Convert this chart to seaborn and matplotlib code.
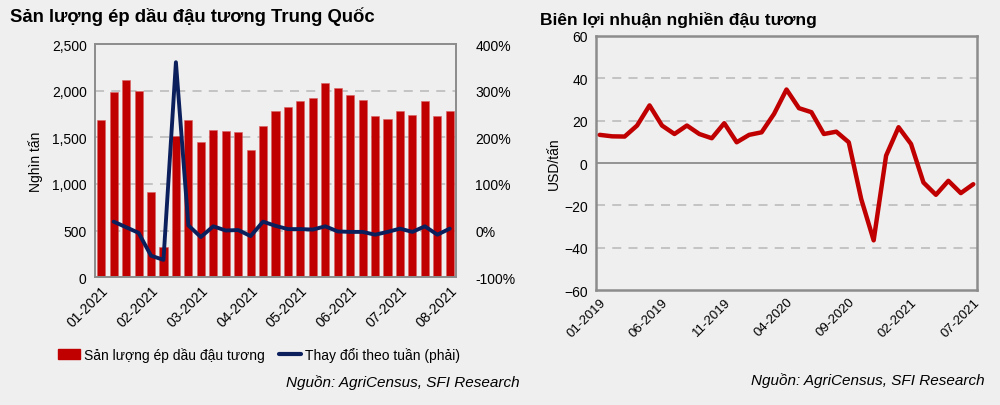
import numpy as np
import pandas as pd
import matplotlib
matplotlib.use("Agg")
import matplotlib.pyplot as plt
import matplotlib.ticker as mticker
from matplotlib.patches import Patch
from matplotlib.lines import Line2D
import seaborn as sns

# ---------------- data ----------------
crush_volume = [1686, 1989, 2114, 1996, 911, 325, 1511, 1686, 1454, 1575,
                1564, 1554, 1361, 1621, 1782, 1825, 1886, 1921, 2079, 2025,
                1957, 1904, 1725, 1696, 1786, 1736, 1886, 1725, 1786]
weekly_change = [np.nan, 19, 7, -5, -54, -63, 361, 11, -14, 9,
                 0, 1, -12, 19, 10, 3, 3, 2, 9, -2,
                 -3, -3, -9, -3, 4, -3, 9, -9, 4]
left_tick_labels = ["01-2021", "02-2021", "03-2021", "04-2021",
                    "05-2021", "06-2021", "07-2021", "08-2021"]

margin_months = ["01-2019", "02-2019", "03-2019", "04-2019", "05-2019", "06-2019",
                 "07-2019", "08-2019", "09-2019", "10-2019", "11-2019", "12-2019",
                 "01-2020", "02-2020", "03-2020", "04-2020", "05-2020", "06-2020",
                 "07-2020", "08-2020", "09-2020", "10-2020", "11-2020", "12-2020",
                 "01-2021", "02-2021", "03-2021", "04-2021", "05-2021", "06-2021",
                 "07-2021"]
margin_values = [13.3, 12.6, 12.5, 17.7, 27.2, 17.7, 13.7, 17.7, 13.7, 11.7,
                 18.8, 9.8, 13.3, 14.5, 23.2, 34.7, 25.9, 24.0, 13.7, 14.8,
                 9.8, -17.0, -36.5, 3.5, 16.9, 9.0, -9.2, -15.0, -8.4, -14.2,
                 -10.0]

# ---------------- style ----------------
BG = "#efefef"
RED = "#c00000"
NAVY = "#0b1f5c"
GRID = "#c0c0c0"
SPINE = "#8c8c8c"

sns.set_theme(style="white")
plt.rcParams["font.family"] = ["Liberation Sans", "DejaVu Sans"]
plt.rcParams["axes.facecolor"] = BG
plt.rcParams["figure.facecolor"] = BG
plt.rcParams["text.color"] = "black"
plt.rcParams["axes.labelcolor"] = "black"
plt.rcParams["xtick.color"] = "black"
plt.rcParams["ytick.color"] = "black"

fig = plt.figure(figsize=(10, 4.06), dpi=100)

# ---------------- left chart ----------------
ax1 = fig.add_axes([0.095, 0.315, 0.361, 0.574])
df_left = pd.DataFrame({"idx": np.arange(len(crush_volume)),
                        "vol": crush_volume, "chg": weekly_change})
sns.barplot(data=df_left, x="idx", y="vol", color=RED, width=0.65,
            saturation=1, ax=ax1, zorder=2, edgecolor="#d86060", linewidth=0.4)
ax1.set_ylim(0, 2500)
ax1.set_xlim(-0.5, len(crush_volume) - 0.5)
ax1.yaxis.set_major_locator(mticker.MultipleLocator(500))
ax1.yaxis.set_major_formatter(mticker.FuncFormatter(lambda v, p: f"{int(v):,}"))
for yv in [500, 1000, 1500, 2000]:
    ax1.axhline(yv, color=GRID, lw=1.3, ls=(0, (5, 4)), zorder=1)
ax1.set_xticks(np.arange(0, len(crush_volume), 4))
ax1.set_xticklabels(left_tick_labels, rotation=45, ha="right",
                    rotation_mode="anchor", fontsize=10)
ax1.tick_params(axis="x", length=0, pad=4)
ax1.tick_params(axis="y", length=0, labelsize=10, pad=6)
ax1.set_xlabel("")
ax1.set_ylabel("Nghìn tấn", fontsize=10, labelpad=6)
for s in ax1.spines.values():
    s.set_color(SPINE)
    s.set_linewidth(1.2)

ax2 = ax1.twinx()
sns.lineplot(data=df_left, x="idx", y="chg", color=NAVY, lw=2.8, ax=ax2,
             zorder=3)
ax2.set_ylim(-100, 400)
ax2.yaxis.set_major_locator(mticker.MultipleLocator(100))
ax2.yaxis.set_major_formatter(mticker.FuncFormatter(lambda v, p: f"{int(v)}%"))
ax2.tick_params(axis="y", length=0, labelsize=10, pad=14)
ax2.set_ylabel("")
ax2.set_xlabel("")
for s in ax2.spines.values():
    s.set_color(SPINE)
    s.set_linewidth(1.2)

fig.text(0.01, 0.935, "Sản lượng ép dầu đậu tương Trung Quốc",
         fontsize=13.3, fontweight="bold", ha="left", va="bottom")

handles = [Patch(facecolor=RED, edgecolor=RED),
           Line2D([0], [0], color=NAVY, lw=3)]
fig.legend(handles, ["Sản lượng ép dầu đậu tương", "Thay đổi theo tuần (phải)"],
           loc="center left", bbox_to_anchor=(0.052, 0.125), ncol=2,
           frameon=False, fontsize=10, handlelength=1.6, handletextpad=0.3,
           columnspacing=1.0, borderaxespad=0)
fig.text(0.52, 0.058, "Nguồn: AgriCensus, SFI Research", fontsize=11,
         style="italic", ha="right", va="center")

# ---------------- right chart ----------------
ax3 = fig.add_axes([0.596, 0.283, 0.381, 0.626])
df_right = pd.DataFrame({"i": np.arange(len(margin_values)),
                         "m": margin_values})
sns.lineplot(data=df_right, x="i", y="m", color=RED, lw=3.2, ax=ax3,
             zorder=3, solid_joinstyle="round", solid_capstyle="round")
ax3.set_ylim(-60, 60)
ax3.set_xlim(-0.3, len(margin_values) - 1 + 0.3)
ax3.yaxis.set_major_locator(mticker.MultipleLocator(20))
for yv in [-40, -20, 20, 40]:
    ax3.axhline(yv, color=GRID, lw=1.3, ls=(0, (5, 4)), zorder=1)
ax3.axhline(0, color=SPINE, lw=1.3, zorder=1)
ax3.set_xticks(np.arange(0, len(margin_values), 5))
ax3.set_xticklabels(margin_months[::5], rotation=45, ha="right",
                    rotation_mode="anchor", fontsize=9.5)
ax3.tick_params(axis="x", length=0, pad=4)
ax3.tick_params(axis="y", length=0, labelsize=10, pad=6)
ax3.set_xlabel("")
ax3.set_ylabel("USD/tấn", fontsize=10, labelpad=2)
for s in ax3.spines.values():
    s.set_color(SPINE)
    s.set_linewidth(1.8)

fig.text(0.54, 0.932, "Biên lợi nhuận nghiền đậu tương",
         fontsize=12.5, fontweight="bold", ha="left", va="bottom")
fig.text(0.985, 0.063, "Nguồn: AgriCensus, SFI Research", fontsize=11,
         style="italic", ha="right", va="center")

fig.savefig("out.png", dpi=100, facecolor=BG)
